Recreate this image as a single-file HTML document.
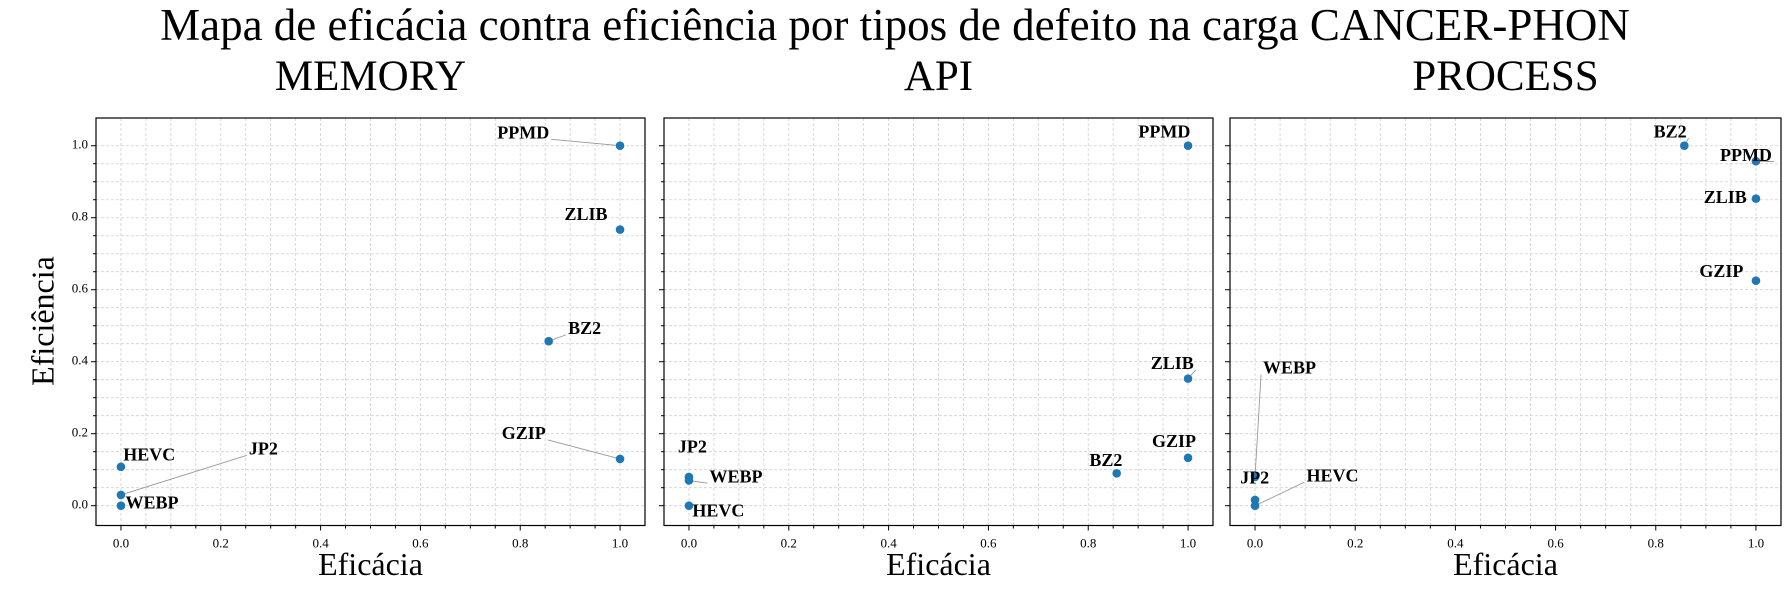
<!DOCTYPE html>
<html><head><meta charset="utf-8"><style>
html,body{margin:0;padding:0;background:#fff;}
svg{display:block;font-family:"Liberation Serif",serif;}
</style></head><body>
<svg id="chart" width="1790" height="593" viewBox="0 0 1790 593" xmlns="http://www.w3.org/2000/svg">
<text x="895" y="40" font-size="45" text-anchor="middle">Mapa de eficácia contra eficiência por tipos de defeito na carga CANCER-PHON</text>
<text x="46" y="321" font-size="32" text-anchor="middle" dominant-baseline="middle" transform="rotate(-90 46 321)">Eficiência</text>
</svg>
<script>
const panelTitles = ["MEMORY","API","PROCESS"];
const memLabels = ["PPMD","ZLIB","BZ2","GZIP","HEVC","JP2","WEBP"];
const memX = [1.0,1.0,0.857,1.0,0.0,0.0,0.0];
const memY = [1.0,0.767,0.457,0.13,0.108,0.03,0.0];
const apiLabels = ["PPMD","ZLIB","GZIP","BZ2","JP2","WEBP","HEVC"];
const apiX = [1.0,1.0,1.0,0.857,0.0,0.0,0.0];
const apiY = [1.0,0.353,0.133,0.09,0.08,0.07,0.0];
const procLabels = ["BZ2","PPMD","ZLIB","GZIP","WEBP","JP2","HEVC"];
const procX = [0.857,1.0,1.0,1.0,0.0,0.0,0.0];
const procY = [1.0,0.957,0.853,0.625,0.08,0.016,0.0];
const xTicks = [0,0.2,0.4,0.6,0.8,1.0];
const yTicks = [0,0.2,0.4,0.6,0.8,1.0];

const S = 1.1424;
const memOff = [[-62,-10,'end',1],[-11,-12,'end',0],[17,-10,'start',1],[-65,-21,'end',1],[2,-9,'start',1],[112,-39,'start',1],[4,-1,'start',0]];
const apiOff = [[2,-11,'end',0],[5,-12,'end',1],[7,-13,'end',0],[5,-10,'end',0],[3,-25,'middle',0],[18,-2,'start',1],[3,6,'start',0]];
const procOff = [[2,-11,'end',1],[14,-4,'end',1],[-8,0,'end',0],[-11,-7,'end',0],[7,-94,'start',1],[-13,-18,'start',0],[45,-25,'start',1]];

const svg = document.getElementById('chart');
const NS = 'http://www.w3.org/2000/svg';
function mk(tag, attrs, parent){const e=document.createElementNS(NS,tag);for(const k in attrs)e.setAttribute(k,attrs[k]);(parent||svg).appendChild(e);return e;}

const panels = [
 {L:96,R:645,labels:memLabels,xs:memX,ys:memY,off:memOff,name:'memory'},
 {L:664,R:1213,labels:apiLabels,xs:apiX,ys:apiY,off:apiOff,name:'api'},
 {L:1230,R:1781,labels:procLabels,xs:procX,ys:procY,off:procOff,name:'process'}
];
const T=118,B=525.5,xmin=-0.05,xmax=1.05,ymin=-0.055,ymax=1.077;

panels.forEach((p,pi)=>{
  const g = mk('g',{});
  
  
  const sx = v => p.L + (v-xmin)/(xmax-xmin)*(p.R-p.L);
  const sy = v => B - (v-ymin)/(ymax-ymin)*(B-T);
  for(let i=0;i<=20;i++){
    const v=i*0.05;
    const X=sx(v);
    const gl=mk('line',{x1:X,x2:X,y1:T,y2:B,stroke:'#d0d0d0','stroke-width':0.8,'stroke-dasharray':'3,2'},g);
    
    
    const Y=sy(v);
    const gy=mk('line',{x1:p.L,x2:p.R,y1:Y,y2:Y,stroke:'#d0d0d0','stroke-width':0.8,'stroke-dasharray':'3,2'},g);
    
    
    const major = (i%4===0);
    mk('line',{x1:X,x2:X,y1:B,y2:B+(major?5:3),stroke:'#000','stroke-width':1},g);
    mk('line',{x1:p.L,x2:p.L-(major?5:3),y1:Y,y2:Y,stroke:'#000','stroke-width':1},g);
  }
  xTicks.forEach(v=>{
    const t=mk('text',{x:sx(v),y:B+22,'font-size':13,'text-anchor':'middle'},g);
    t.textContent=v.toFixed(1);
    
    
  });
  if(pi===0) yTicks.forEach(v=>{
    const t=mk('text',{x:p.L-8,y:sy(v),'font-size':13,'text-anchor':'end','dominant-baseline':'middle'},g);
    t.textContent=v.toFixed(1);
    
    
  });
  const fr=mk('rect',{x:p.L,y:T,width:p.R-p.L,height:B-T,fill:'none',stroke:'#000','stroke-width':1.2},g);
  
  
  const st=mk('text',{x:(p.L+p.R)/2,y:90,'font-size':43,'text-anchor':'middle'},g);
  st.textContent=panelTitles[pi];
  
  
  const xl=mk('text',{x:(p.L+p.R)/2,y:575,'font-size':32,'text-anchor':'middle'},g);
  xl.textContent='Eficácia';
  
  
  p.labels.forEach((lab,i)=>{
    const px=sx(p.xs[i]), py=sy(p.ys[i]);
    const o=p.off[i];
    const tx=px+o[0]*S, ty=py+o[1]*S;
    if(o[3]){
      let lx = o[2]==='end'? tx+2 : (o[2]==='start'? tx-2 : tx);
      const ln=mk('line',{x1:lx,y1:ty+5,x2:px,y2:py,stroke:'#999','stroke-width':0.9},g);
      
      
    }
  });
  p.labels.forEach((lab,i)=>{
    const px=sx(p.xs[i]), py=sy(p.ys[i]);
    const c=mk('circle',{cx:px,cy:py,r:4.3,fill:'#1f77b4'},g);
    
    
  });
  p.labels.forEach((lab,i)=>{
    const px=sx(p.xs[i]), py=sy(p.ys[i]);
    const o=p.off[i];
    const t=mk('text',{x:px+o[0]*S,y:py+o[1]*S,'font-size':18,'font-weight':'bold','text-anchor':o[2],'dominant-baseline':'middle'},g);
    t.textContent=lab;
    
    
  });
});
</script>
</body></html>
